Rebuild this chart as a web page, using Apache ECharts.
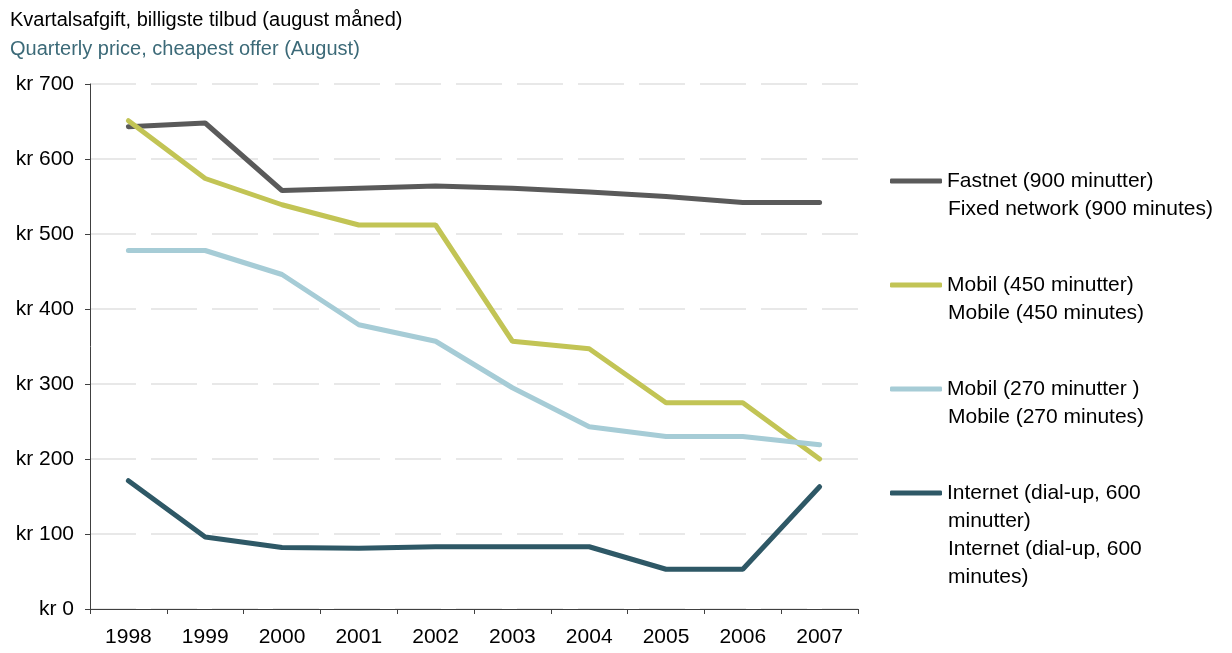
<!DOCTYPE html>
<html>
<head>
<meta charset="utf-8">
<script src="https://cdn.jsdelivr.net/npm/echarts@6/dist/echarts.min.js"></script>
<style>
  html, body { margin: 0; padding: 0; background: #fff; }
  #chart { width: 1232px; height: 653px; }
</style>
</head>
<body>
<div id="chart"></div>
<script>
// data
const years = ['1998', '1999', '2000', '2001', '2002', '2003', '2004', '2005', '2006', '2007']
const fastnet = [643, 648, 558, 561, 564, 561, 556, 550, 542, 542]
const mobil450 = [651, 574, 539, 512, 512, 357, 347, 275, 275, 200]
const mobil270 = [478, 478, 446, 379, 357, 295, 243, 230, 230, 219]
const internet = [171, 96, 82, 81, 83, 83, 83, 53, 53, 163]

const seriesNames = ['Fastnet (900 minutter)', 'Mobil (450 minutter)', 'Mobil (270 minutter )', 'Internet (dial-up, 600 minutter)']
// what the legend shows on each row (first row next to the line sample)
const legendLines = [
  ['Fastnet (900 minutter)', 'Fixed network (900 minutes)'],
  ['Mobil (450 minutter)', 'Mobile (450 minutes)'],
  ['Mobil (270 minutter )', 'Mobile (270 minutes)'],
  ['Internet (dial-up, 600', 'minutter)', 'Internet (dial-up, 600', 'minutes)']
]
const colors = ['#5a5a5a', '#c2c455', '#a6ccd6', '#2e5866']

const font = '"Liberation Sans", Arial, sans-serif'
const fs = 21
const lineH = 28
const legendTop = 167
const legendStep = 104

const chart = echarts.init(document.getElementById('chart'))

const seriesData = [fastnet, mobil450, mobil270, internet]
const series = seriesData.map((d, i) => ({
  name: seriesNames[i],
  type: 'line',
  data: d,
  symbol: 'none',
  lineStyle: { width: 5, color: colors[i], cap: 'round' },
  itemStyle: { color: colors[i] },
  z: 2 + i
}))

// extra legend rows as plain text under the legend entries
const extraText = legendLines.map((lines, i) => ({
  type: 'text',
  left: 948,
  top: legendTop + i * legendStep + lineH,
  style: {
    text: lines.slice(1).join('\n'),
    font: fs + 'px ' + font,
    lineHeight: lineH,
    fill: '#000'
  }
}))

const option = {
  animation: false,
  color: colors,
  title: [
    {
      text: 'Kvartalsafgift, billigste tilbud (august måned)',
      left: 5, top: 5,
      textStyle: { fontFamily: font, fontSize: 20, fontWeight: 'normal', color: '#000' }
    },
    {
      text: 'Quarterly price, cheapest offer (August)',
      left: 5, top: 34,
      textStyle: { fontFamily: font, fontSize: 20, fontWeight: 'normal', color: '#3c6a78' }
    }
  ],
  grid: { left: 90, right: 374, top: 84, bottom: 44 },
  legend: {
    orient: 'vertical',
    left: 890,
    top: legendTop,
    padding: 0,
    itemWidth: 52,
    itemHeight: 5,
    itemGap: legendStep - lineH,
    icon: 'roundRect',
    data: seriesNames,
    formatter: name => legendLines[seriesNames.indexOf(name)][0],
    textStyle: { fontFamily: font, fontSize: fs, color: '#000', lineHeight: lineH }
  },
  xAxis: {
    type: 'category',
    data: years,
    boundaryGap: true,
    axisLine: { lineStyle: { color: '#404040', width: 1 } },
    axisTick: { show: true, length: 5, alignWithLabel: false, lineStyle: { color: '#404040' } },
    axisLabel: { margin: 18, fontFamily: font, fontSize: fs, color: '#000' }
  },
  yAxis: {
    type: 'value',
    min: 0,
    max: 700,
    interval: 100,
    axisLine: { show: true, lineStyle: { color: '#404040', width: 1 } },
    axisTick: { show: true, length: 5, lineStyle: { color: '#404040' } },
    axisLabel: {
      margin: 16,
      fontFamily: font, fontSize: fs, color: '#000',
      formatter: v => 'kr ' + v
    },
    splitLine: { show: true, lineStyle: { color: '#e8e8e8', width: 2, type: [46, 15] } }
  },
  graphic: extraText,
  series
}

chart.setOption(option)
</script>
</body>
</html>
